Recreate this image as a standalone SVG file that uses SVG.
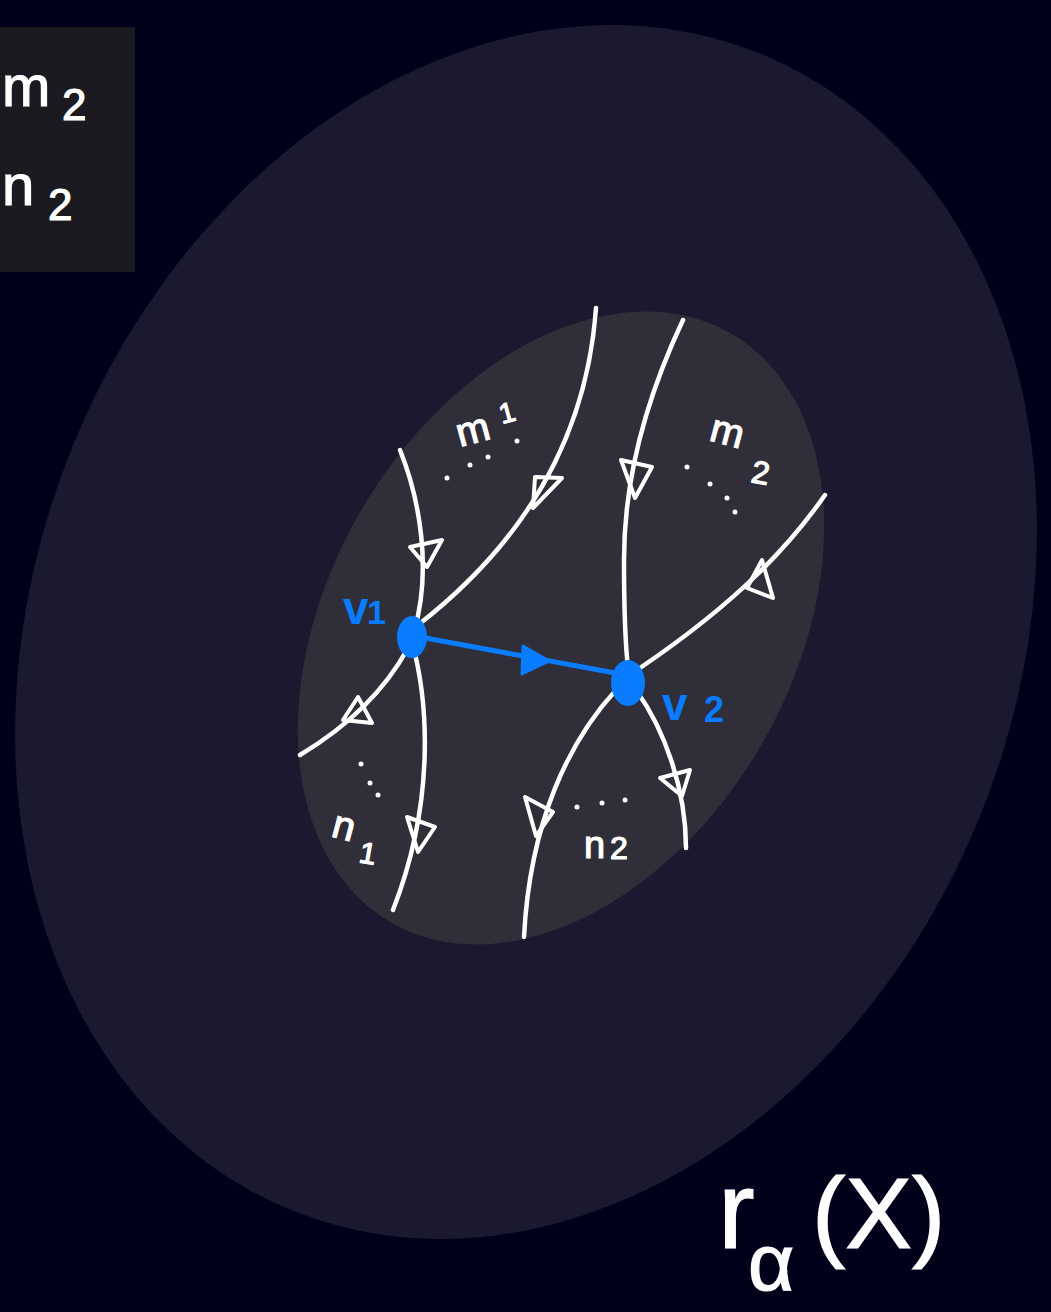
<svg xmlns="http://www.w3.org/2000/svg" width="1051" height="1312" viewBox="0 0 1051 1312">
<style>
.w{fill:none;stroke:#ffffff;stroke-width:4.5;stroke-linecap:round;stroke-linejoin:round}
.ah{fill:none;stroke:#ffffff;stroke-width:4;stroke-linejoin:round}
.hw{font-family:"Liberation Sans",Arial,sans-serif;fill:#ffffff;stroke:#ffffff;stroke-width:1.2}
.bl{font-family:"Liberation Sans",Arial,sans-serif;fill:#0a7cff;font-weight:bold}
.dot{fill:#ffffff}
</style>
<rect width="1051" height="1312" fill="#00001a"/>
<g id="outer-region">
<ellipse cx="526" cy="632" rx="490" ry="624" transform="rotate(22 526 632)" fill="#1b1930"/>
</g>
<g id="inner-region">
<ellipse cx="561" cy="628" rx="232" ry="340" transform="rotate(30 561 628)" fill="#302e38"/>
</g>
<g id="legend-box">
<rect x="0" y="27" width="135" height="245" fill="#1a1a20"/>
<text class="hw" x="2" y="106" font-size="58">m</text>
<text class="hw" x="62" y="120" font-size="44">2</text>
<text class="hw" x="2" y="205" font-size="58">n</text>
<text class="hw" x="48" y="220" font-size="44">2</text>
</g>
<g id="connectors">
<path class="w" d="M400,450 C420,500 432,570 414,632"/>
<path class="w" d="M412,642 C428,700 436,800 393,910"/>
<path class="w" d="M596,308 C588,420 540,530 418,625"/>
<path class="w" d="M408,648 C385,690 350,725 300,755"/>
<path class="w" d="M683,320 C650,390 624,470 624,560 C624,610 626,650 628,668"/>
<path class="w" d="M636,690 C665,730 686,790 686,848"/>
<path class="w" d="M825,495 C790,545 740,600 640,668"/>
<path class="w" d="M616,690 C570,740 530,820 524,937"/>
<polygon class="ah" points="410,547 442,540 427,567"/>
<polygon class="ah" points="535,477 562,478 533,508"/>
<polygon class="ah" points="358,697 372,723 343,720"/>
<polygon class="ah" points="407,817 435,827 418,852"/>
<polygon class="ah" points="621,460 652,467 635,498"/>
<polygon class="ah" points="762,560 773,598 747,588"/>
<polygon class="ah" points="525,797 553,812 536,836"/>
<polygon class="ah" points="660,778 690,770 682,796"/>
<line x1="420" y1="637" x2="615" y2="673" stroke="#0a7cff" stroke-width="5" stroke-linecap="round"/>
<polygon points="523,646 549,661 522,674" fill="#0a7cff" stroke="#0a7cff" stroke-width="3" stroke-linejoin="round"/>
</g>
<g id="v1">
<ellipse cx="412" cy="637" rx="15" ry="21" fill="#0a7cff"/>
<text class="bl" x="343" y="624" font-size="46">v</text>
<text class="bl" x="367" y="624" font-size="34">1</text>
</g>
<g id="v2">
<ellipse cx="628" cy="683" rx="17" ry="23" fill="#0a7cff"/>
<text class="bl" x="662" y="720" font-size="46">v</text>
<text class="bl" x="704" y="722" font-size="36">2</text>
</g>
<g id="labels">
<text class="hw" font-size="40" transform="translate(460,447) rotate(-15)">m</text>
<text class="hw" font-size="28" transform="translate(502,424) rotate(-15)">1</text>
<circle class="dot" cx="447" cy="478" r="2.5"/><circle class="dot" cx="470" cy="465" r="2.5"/><circle class="dot" cx="488" cy="457" r="2.5"/><circle class="dot" cx="517" cy="441" r="2.5"/>
<text class="hw" font-size="40" transform="translate(708,440) rotate(15)">m</text>
<text class="hw" font-size="32" transform="translate(750,482) rotate(10)">2</text>
<circle class="dot" cx="687" cy="467" r="2.5"/><circle class="dot" cx="710" cy="484" r="2.5"/><circle class="dot" cx="727" cy="498" r="2.5"/><circle class="dot" cx="735" cy="512" r="2.5"/>
<text class="hw" font-size="40" transform="translate(330,836) rotate(15)">n</text>
<text class="hw" font-size="30" transform="translate(358,862) rotate(10)">1</text>
<circle class="dot" cx="361" cy="764" r="2.5"/><circle class="dot" cx="370" cy="783" r="2.5"/><circle class="dot" cx="378" cy="795" r="2.5"/>
<text class="hw" font-size="38" x="584" y="858">n</text>
<text class="hw" font-size="32" x="610" y="859">2</text>
<circle class="dot" cx="577" cy="807" r="2.5"/><circle class="dot" cx="602" cy="803" r="2.5"/><circle class="dot" cx="625" cy="800" r="2.5"/>
</g>
<g id="title">
<text class="hw" x="718" y="1248" font-size="110">r</text>
<text class="hw" x="748" y="1290" font-size="80">α</text>
<text class="hw" x="812" y="1248" font-size="100">(X)</text>
</g>
</svg>
